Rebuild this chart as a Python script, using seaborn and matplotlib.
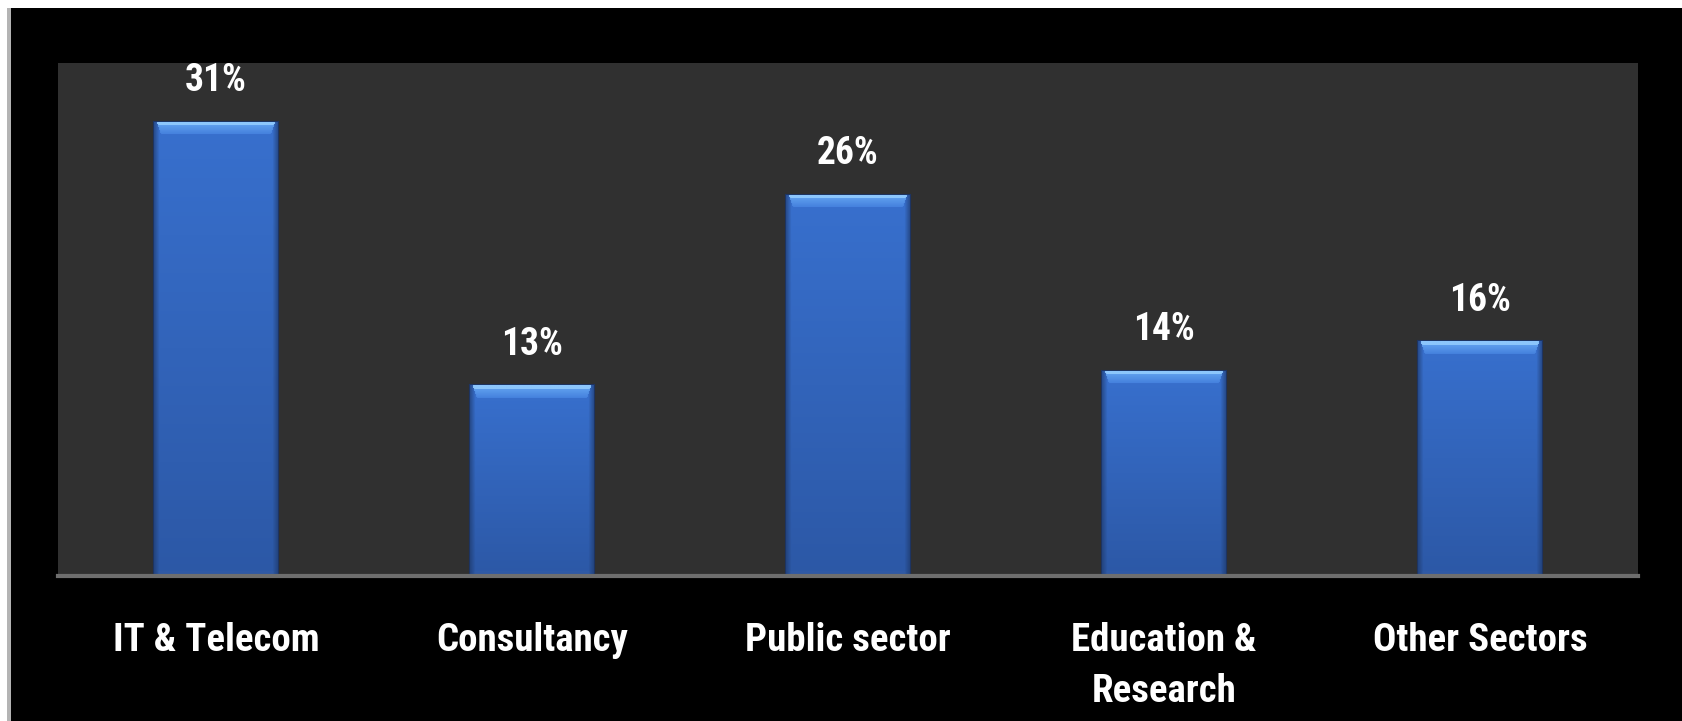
import numpy as np
import pandas as pd
import matplotlib
matplotlib.use("Agg")
import matplotlib.pyplot as plt
from matplotlib.patches import Rectangle
import seaborn as sns

# Share of respondents by sector
sectors = ["IT & Telecom", "Consultancy", "Public sector", "Education &\nResearch", "Other Sectors"]
shares = [31, 13, 26, 14, 16]

df = pd.DataFrame({"sector": sectors, "share": shares})

sns.set_theme(style="dark")
plt.rcParams["font.family"] = ["Roboto Condensed", "Roboto", "DejaVu Sans"]

W, H = 1682, 721
fig = plt.figure(figsize=(W / 100, H / 100), dpi=100, facecolor="black")
ax = fig.add_axes([58 / W, 1 - 576 / H, (1638 - 58) / W, (576 - 63) / H])
ax.set_facecolor("#303030")

sns.barplot(data=df, x="sector", y="share", ax=ax, color="#3468c4",
            width=0.39, edgecolor="#1d3462", linewidth=1.5, zorder=2)

ax.set_xlim(-0.5, len(sectors) - 0.5)
ax.set_ylim(0, 35)

# Glossy gradient fill clipped to each bar
top_body = np.array([56, 112, 206]) / 255
bot_body = np.array([44, 88, 166]) / 255
edge_dark = np.array([30, 56, 104]) / 255
cap_light = np.array([140, 198, 252]) / 255
cap_mid = np.array([92, 156, 236]) / 255
cap_low = np.array([70, 130, 222]) / 255

px_per_unit = (576 - 63) / 35.0
for patch in ax.patches:
    x0, w, h = patch.get_x(), patch.get_width(), patch.get_height()
    n = max(int(round(h * px_per_unit)), 20)
    cols = 122
    r = np.arange(n)[:, None] / (n - 1)
    img = top_body + (bot_body - top_body) * r[..., None] * np.ones((1, cols, 1))
    c = np.arange(cols)
    d = np.minimum(c, cols - 1 - c)
    edge = np.clip(1 - d / 5.0, 0, 1)[None, :, None]
    img = img * (1 - 0.6 * edge) + edge_dark * 0.6 * edge
    # lighter cap band at the top with bevelled corners
    for row in range(13):
        inset = 3 + row // 3
        if row < 4:
            col = cap_light
        else:
            t = (row - 4) / 8
            col = cap_mid * (1 - t) + cap_low * t
        img[row, inset:cols - inset] = col
    img[-5:, 4:cols - 4] = img[-5:, 4:cols - 4] * 0.8 + np.array([60, 96, 160]) / 255 * 0.2
    im = ax.imshow(img, extent=[x0, x0 + w, 0, h], aspect="auto", origin="upper",
                   interpolation="bilinear", zorder=3)
    im.set_clip_path(patch)

ax.set_xlim(-0.5, len(sectors) - 0.5)
ax.set_ylim(0, 35)

for i, v in enumerate(shares):
    ax.annotate(f"{v}%", (i, v), xytext=(0, 29.5), textcoords="offset points",
                ha="center", va="center", color="white", fontsize=27,
                fontweight="bold", zorder=5)

ax.set_xlabel("")
ax.set_ylabel("")
ax.set_yticks([])
ax.tick_params(axis="x", length=0, pad=33, colors="white")
for lbl in ax.get_xticklabels():
    lbl.set_fontsize(28)
    lbl.set_fontweight("bold")
    lbl.set_color("white")
    lbl.set_linespacing(1.5)

for s in ["left", "right", "top"]:
    ax.spines[s].set_visible(False)
ax.spines["bottom"].set_visible(True)
ax.spines["bottom"].set_color("#6e6e6e")
ax.spines["bottom"].set_linewidth(3)
ax.spines["bottom"].set_zorder(4)

# Page border strips
fig.patches.append(Rectangle((0, 1 - 8 / H), 1, 8 / H, transform=fig.transFigure,
                             facecolor="white", edgecolor="none"))
fig.patches.append(Rectangle((0, 0), 7 / W, 1, transform=fig.transFigure,
                             facecolor="white", edgecolor="none"))
fig.patches.append(Rectangle((7 / W, 0), 4 / W, 1 - 8 / H, transform=fig.transFigure,
                             facecolor="#b4b4b4", edgecolor="none"))

fig.savefig("out.png", dpi=100, facecolor="black")
